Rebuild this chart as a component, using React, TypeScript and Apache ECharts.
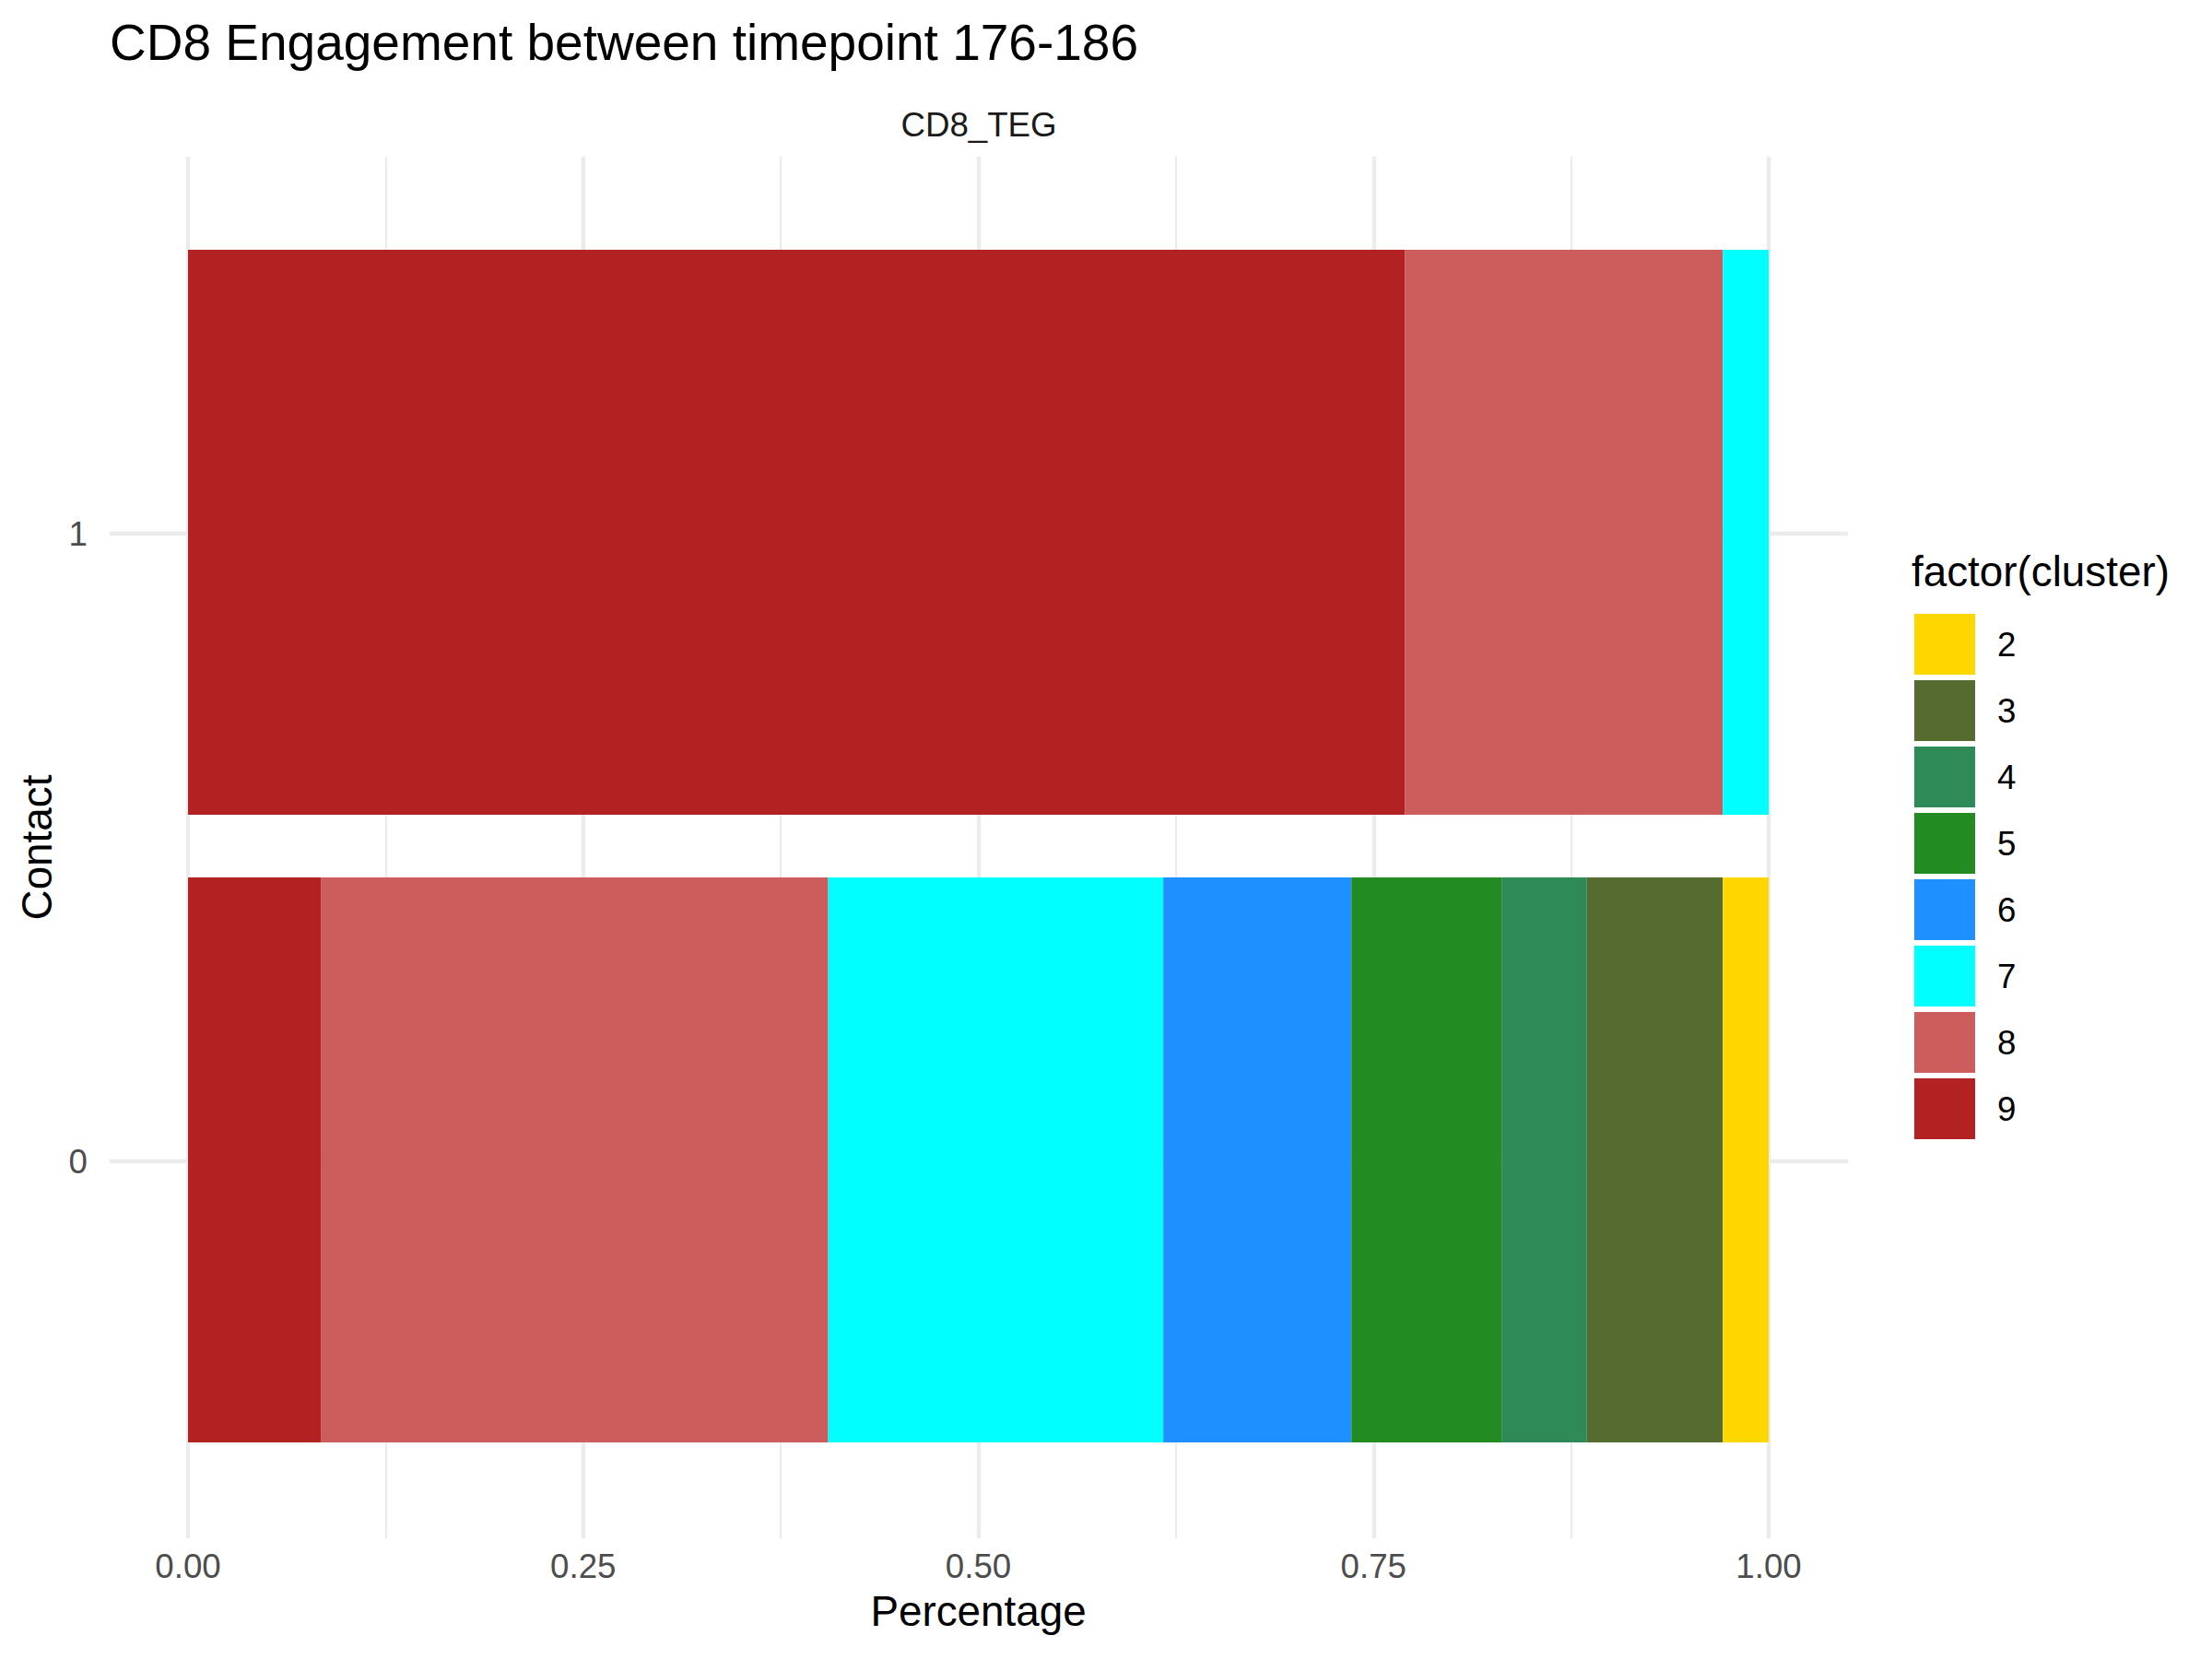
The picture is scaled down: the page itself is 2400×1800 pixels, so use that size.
import React, { useEffect, useRef } from 'react';
import * as echarts from 'echarts';

// ---- data ----
const contactLevels = ['0', '1'];
const clusterNames = ['2', '3', '4', '5', '6', '7', '8', '9'];
const clusterColors = ['#FFD700', '#556B2F', '#2E8B57', '#228B22', '#1E90FF', '#00FFFF', '#CD5C5C', '#B22222'];
// share of each cluster per contact level: [Contact 0, Contact 1]
const cluster2 = [0.029, null];
const cluster3 = [0.086, null];
const cluster4 = [0.054, null];
const cluster5 = [0.095, null];
const cluster6 = [0.119, null];
const cluster7 = [0.212, 0.029];
const cluster8 = [0.321, 0.201];
const cluster9 = [0.084, 0.770];
const xTickLabels = ['0.00', '0.25', '0.50', '0.75', '1.00'];

const FONT = "'Liberation Sans', Arial, Helvetica, sans-serif";

export default function App() {
  const ref = useRef<HTMLDivElement>(null);
  useEffect(() => {
    document.body.style.margin = '0';
    if (!ref.current) return;
    const chart = echarts.init(ref.current, undefined, { renderer: 'svg' });
    const valuesByCluster: Record<string, (number | null)[]> = {
      '2': cluster2, '3': cluster3, '4': cluster4, '5': cluster5,
      '6': cluster6, '7': cluster7, '8': cluster8, '9': cluster9,
    };
    const stackOrder = ['9', '8', '7', '6', '5', '4', '3', '2'];
    const series: any[] = stackOrder.map((c) => ({
      name: c,
      type: 'bar',
      stack: 'total',
      xAxisIndex: 0,
      yAxisIndex: 0,
      barWidth: '90%',
      silent: true,
      itemStyle: { color: clusterColors[clusterNames.indexOf(c)] },
      data: valuesByCluster[c],
    }));
    // dummy series so background axes are active
    series.push({ type: 'line', xAxisIndex: 1, yAxisIndex: 1, data: [], silent: true });
    series.push({ type: 'line', xAxisIndex: 2, yAxisIndex: 2, data: [], silent: true });

    const option: any = {
      animation: false,
      backgroundColor: '#ffffff',
      textStyle: { fontFamily: FONT },
      grid: [
        { left: 204, right: 481, top: 237, bottom: 201, containLabel: false },
        { left: 204, right: 481, top: 170, bottom: 131, containLabel: false },
        { left: 119, right: 395, top: 579, bottom: 540, containLabel: false },
      ],
      xAxis: [
        { gridIndex: 0, type: 'value', min: 0, max: 1, show: false, splitLine: { show: false } },
        {
          gridIndex: 1, type: 'value', min: 0, max: 1, interval: 0.25,
          axisLine: { show: false }, axisTick: { show: false },
          minorTick: { show: false, splitNumber: 2 },
          splitLine: { show: true, lineStyle: { color: '#ebebeb', width: 4.4 } },
          minorSplitLine: { show: true, lineStyle: { color: '#ebebeb', width: 2.2 } },
          axisLabel: {
            show: true, fontSize: 36.7, color: '#4d4d4d', margin: 12, fontFamily: FONT,
            formatter: (v: number) => xTickLabels[Math.round(v / 0.25)] ?? '',
          },
          name: 'Percentage', nameLocation: 'middle', nameGap: 56,
          nameTextStyle: { fontSize: 45.8, color: '#000000', fontFamily: FONT },
        },
        { gridIndex: 2, type: 'value', min: 0, max: 1, show: false, splitLine: { show: false } },
      ],
      yAxis: [
        { gridIndex: 0, type: 'category', data: contactLevels, show: false },
        { gridIndex: 1, type: 'value', min: 0, max: 1, show: false, splitLine: { show: false } },
        {
          gridIndex: 2, type: 'value', min: 0, max: 1, interval: 1,
          axisLine: { show: false }, axisTick: { show: false },
          splitLine: { show: true, lineStyle: { color: '#ebebeb', width: 4.4 } },
          axisLabel: {
            show: true, fontSize: 36.7, color: '#4d4d4d', margin: 24, fontFamily: FONT,
            formatter: (v: number) => contactLevels[Math.round(v)] ?? '',
          },
          name: 'Contact', nameLocation: 'middle', nameGap: 53, nameRotate: 90,
          nameTextStyle: { fontSize: 45.8, color: '#000000', fontFamily: FONT },
        },
      ],
      legend: {
        data: clusterNames,
        orient: 'vertical',
        left: 2072,
        top: 661,
        itemWidth: 66,
        itemHeight: 66,
        itemGap: 6,
        icon: 'rect',
        selectedMode: false,
        textStyle: { fontSize: 36.7, color: '#000000', fontFamily: FONT, padding: [0, 0, 0, 19] },
      },
      graphic: [
        {
          type: 'text', left: 119, top: 18, silent: true,
          style: { text: 'CD8 Engagement between timepoint 176-186', fontSize: 55, fill: '#000000', fontFamily: FONT },
        },
        {
          type: 'text', x: 1062, y: 135, silent: true,
          style: { text: 'CD8_TEG', fontSize: 36.7, fill: '#1a1a1a', fontFamily: FONT, textAlign: 'center', textVerticalAlign: 'middle' },
        },
        {
          type: 'text', x: 2074, y: 620, silent: true,
          style: { text: 'factor(cluster)', fontSize: 45.8, fill: '#000000', fontFamily: FONT, textAlign: 'left', textVerticalAlign: 'middle' },
        },
      ],
      series,
    };
    chart.setOption(option);
    return () => chart.dispose();
  }, []);
  return <div ref={ref} style={{ width: 2400, height: 1800 }} />;
}
